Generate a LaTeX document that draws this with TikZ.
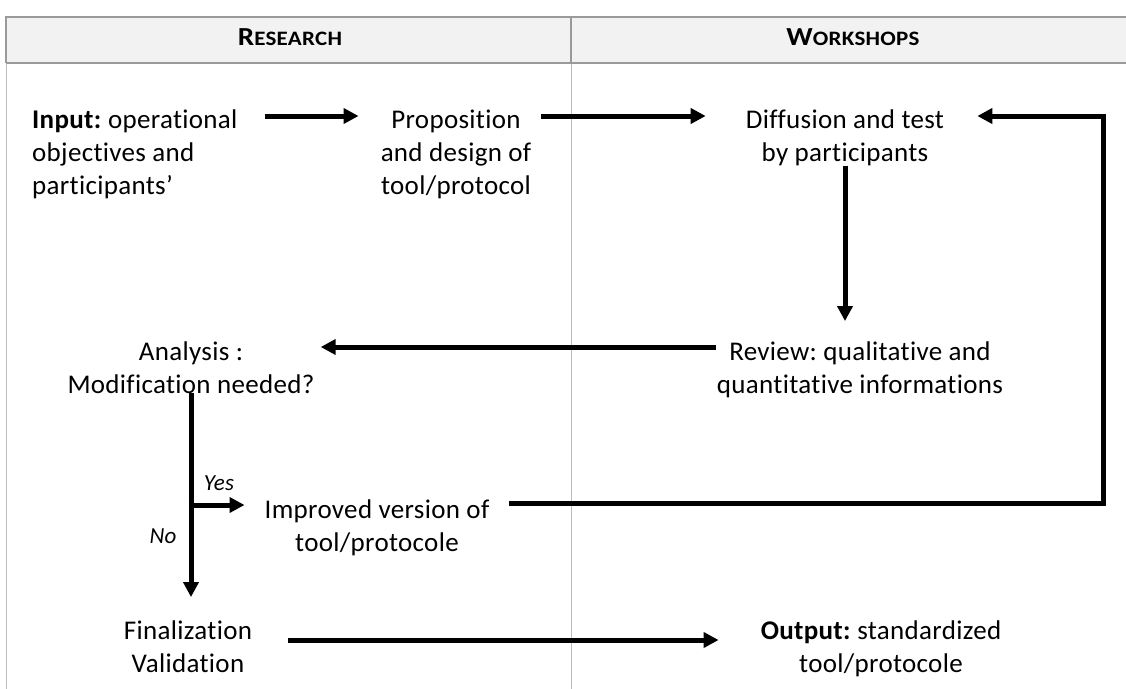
\documentclass[tikz,border=0pt]{standalone}
\usepackage{fontspec}
\setmainfont{Carlito}[Ligatures=NoCommon,LetterSpace=1.2]
\usetikzlibrary{arrows.meta}
\definecolor{hfill}{HTML}{F2F2F2}
\definecolor{hline}{HTML}{9A9A9A}
\definecolor{bline}{HTML}{BDBDBD}
\frenchspacing
\begin{document}
\begin{tikzpicture}[x=1pt,y=-1pt,
  txt/.style={font=\fontsize{27}{33}\selectfont, inner sep=0pt, align=center, anchor=base},
  lbl/.style={font=\fontsize{23}{23}\selectfont\itshape, inner sep=0pt, anchor=base},
  arr/.style={line width=5pt, -{Triangle[length=15pt,width=15pt]}},
  hdr/.style={font=\bfseries, inner sep=0pt, anchor=base},
  ]
\useasboundingbox (0,0) rectangle (1126,688);
% table frame
\fill[hfill] (6,17) rectangle (1140,63);
\draw[bline, line width=1pt] (6,63) -- (6,700);
\draw[bline, line width=1pt] (571,63) -- (571,700);
\draw[hline, line width=1.5pt] (6,63) -- (6,17) -- (1140,17);
\draw[hline, line width=1.5pt] (6,63) -- (1140,63);
\draw[hline, line width=1.5pt] (571,17) -- (571,63);
% headers
\node[hdr] (h1) at (290,45) {\scalebox{1.12}[1]{{\fontsize{26}{26}\selectfont R}{\fontsize{20.5}{20.5}\selectfont ESEARCH}}};
\node[hdr] (h2) at (853,45) {\scalebox{1.12}[1]{{\fontsize{26}{26}\selectfont W}{\fontsize{20.5}{20.5}\selectfont ORKSHOPS}}};
% texts (base anchor = baseline of last line)
\node[txt, anchor=base west, align=left] (in) at (32,194) {\textbf{Input:} operational\\objectives and\\participants’};
\node[txt] (prop) at (456,194) {Proposition\\and design of\\tool/protocol};
\node[txt] (diff) at (845,161) {Diffusion and test\\by participants};
\node[txt] (rev) at (860,393) {Review: qualitative and\\quantitative informations};
\node[txt] (ana) at (191,393) {Analysis :\\Modification needed?};
\node[txt] (imp) at (377,551) {Improved version of\\tool/protocole};
\node[txt] (fin) at (188,672) {Finalization\\Validation};
\node[txt] (out) at (881,672) {\textbf{Output:} standardized\\tool/protocole};
\node[lbl] (yes) at (219,490) {Yes};
\node[lbl] (no) at (163,543) {No};
% helper coordinates
\coordinate (yb) at ([yshift=46pt]imp.base west);
\coordinate (i1) at ([xshift=20pt,yshift=48pt]imp.base east);
\coordinate (d1) at ([xshift=33pt,yshift=45pt]diff.base east);
\coordinate (lp) at (1103,300);
% arrows
\draw[arr] ([xshift=27pt,yshift=78pt]in.base east) -- ([xshift=-22pt,yshift=78pt]prop.base west);
\draw[arr] ([xshift=10pt,yshift=78pt]prop.base east) -- ([xshift=-40pt,yshift=45pt]diff.base west);
\draw[arr, shorten >=20pt] (diff.south) -- (diff.south |- rev.north);
\draw[arr] ([xshift=-1pt,yshift=46pt]rev.base west) -- ([xshift=6pt,yshift=46pt]ana.base east);
\draw[arr, shorten >=23pt] (ana.south) -- (ana.south |- fin.north);
\draw[arr] ([xshift=-2.5pt]ana.south |- yb) -- ([xshift=-20pt]yb);
\draw[arr] (i1) -- (i1 -| lp) -- (lp |- d1) -- (d1);
\draw[arr] ([xshift=36pt,yshift=32pt]fin.base east) -- ([xshift=-42pt,yshift=32pt]out.base west);
\end{tikzpicture}
\end{document}
